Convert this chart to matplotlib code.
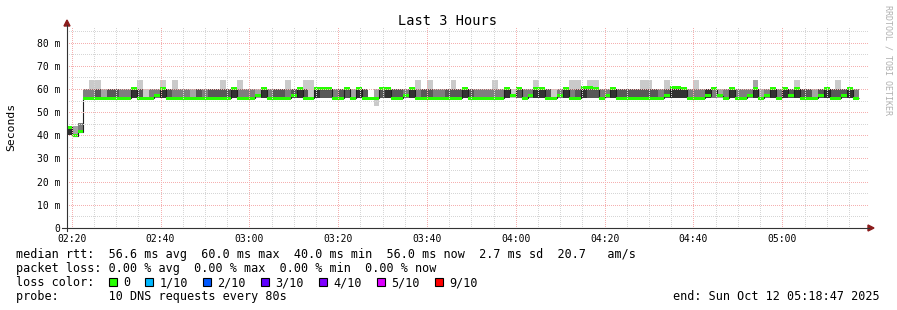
import numpy as np
import matplotlib.pyplot as plt
from matplotlib.patches import Polygon, Rectangle
from matplotlib.lines import Line2D

# Canvas in pixels, rrdtool style layout
W, H = 897, 310
MONO = 'DejaVu Sans Mono'

# time axis, minutes after 02:00
FIRST_STEP = 18 + 38 / 60     # first 80 s step starts 02:18:38
STEP = 80 / 60
T_START = 18 + 56 / 60        # left edge of graph
PX_PER_MIN = 4.441
PX_PER_MS = 2.3175

# usual ping levels in ms
LOW, MID, PEAK = 56.0, 60.0, 64.0

# per step: number of the 10 pings at LOW and at PEAK (the rest sit at MID)
n_low = [0, 0, 0, 7, 7, 6, 8, 6, 6, 7,
         7, 5, 6, 9, 7, 7, 5, 6, 7, 7,
         7, 8, 6, 7, 6, 6, 6, 6, 5, 7,
         7, 7, 8, 5, 7, 6, 6, 7, 6, 5,
         6, 9, 5, 4, 4, 7, 6, 4, 8, 5,
         6, 10, 0, 4, 5, 6, 6, 7, 5, 7,
         6, 6, 7, 7, 6, 6, 6, 5, 6, 7,
         7, 7, 7, 7, 5, 9, 4, 7, 7, 5,
         5, 6, 9, 7, 5, 7, 6, 5, 4, 4,
         7, 7, 5, 6, 6, 6, 6, 6, 6, 6,
         7, 6, 5, 5, 5, 7, 7, 7, 5, 3,
         8, 7, 5, 7, 7, 7, 5, 8, 7, 5,
         7, 5, 6, 5, 6, 6, 8, 6, 5, 6,
         6, 6, 5, 7]
n_peak = [0, 0, 0, 0, 1, 1, 0, 0, 0, 0,
          0, 0, 1, 0, 0, 0, 1, 0, 1, 0,
          0, 0, 0, 0, 0, 0, 1, 0, 0, 1,
          0, 0, 0, 0, 0, 0, 0, 1, 0, 0,
          1, 1, 0, 0, 0, 0, 0, 0, 0, 0,
          0, 0, 0, 0, 0, 0, 0, 0, 0, 1,
          0, 1, 0, 0, 0, 1, 0, 0, 0, 0,
          0, 0, 1, 0, 0, 0, 0, 0, 0, 1,
          0, 0, 0, 0, 0, 1, 1, 0, 1, 1,
          0, 0, 0, 0, 0, 0, 0, 1, 1, 0,
          0, 1, 0, 0, 0, 0, 1, 0, 0, 0,
          0, 0, 0, 0, 0, 0, 2, 0, 0, 0,
          0, 0, 0, 1, 0, 0, 0, 0, 0, 0,
          1, 0, 0, 0]
median = [43.4, 39.9, 41.5, 56, 56, 56, 56, 56, 56, 56,
          56, 60, 56, 56, 56, 57, 60, 56, 56, 56,
          56, 56, 56, 56, 56, 56, 56, 56, 60, 56,
          56, 56, 57, 60, 56, 56, 56, 56, 57, 60,
          56, 56, 60, 60, 60, 56, 56, 60, 56, 60,
          56, 56, 56, 60, 60, 56, 56, 57, 60, 56,
          56, 56, 56, 56, 56, 56, 56, 60, 56, 56,
          56, 56, 56, 56, 60, 57, 60, 56, 57, 60,
          60, 56, 56, 57, 60, 56, 56, 60.5, 60.5, 60,
          56, 57, 60, 56, 56, 56, 56, 56, 56, 56,
          56, 57, 60.5, 60.5, 60, 56, 56, 56, 57, 60,
          57, 56, 60, 56, 56, 57, 60, 56, 57, 60,
          56, 60, 57, 60, 56, 56, 56, 57, 60, 56,
          56, 57, 60, 56]
# steps whose pings are off the usual levels
special_pings = {
    0: [40.0, 40.0, 40.0, 40.0, 40.0, 43.5, 43.5, 43.5, 43.5, 43.5],
    1: [39.8, 39.8, 39.8, 39.8, 39.8, 39.8, 39.8, 39.8, 44.0, 44.0],
    2: [41.5, 41.5, 41.5, 41.5, 41.5, 41.5, 41.5, 45.4, 45.4, 45.4],
    52: [52.5, 56.0, 56.0, 56.0, 56.0, 56.0, 56.0, 56.0, 60.0, 60.0],
}

loss_labels = ['0', '1/10', '2/10', '3/10', '4/10', '5/10', '9/10']
loss_colors = ['#26ff00', '#00b8ff', '#0059ff', '#5e00ff', '#7e00ff', '#dd00ff', '#ff0000']

legend_lines = [
    'median rtt:  56.6 ms avg  60.0 ms max  40.0 ms min  56.0 ms now  2.7 ms sd  20.7   am/s',
    'packet loss: 0.00 % avg  0.00 % max  0.00 % min  0.00 % now',
    'loss color:',
    'probe:       10 DNS requests every 80s',
]
end_text = 'end: Sun Oct 12 05:18:47 2025'


def fx(x):
    return x / W


def fy(y):
    return 1 - y / H


N = len(median)
pings = []
for i in range(N):
    if i in special_pings:
        p = list(special_pings[i])
    else:
        p = [LOW] * n_low[i] + [PEAK] * n_peak[i]
        p += [MID] * (10 - len(p))
    pings.append(sorted(p))
pings = np.array(pings)
med = np.array(median, dtype=float)
edges = FIRST_STEP + STEP * np.arange(N + 1)

fig = plt.figure(figsize=(W / 100, H / 100), dpi=100)
fig.patch.set_facecolor('white')

# plot area: x 67..868, y 26..228 in pixels
ax = fig.add_axes([fx(67), fy(228), 801 / W, 202 / H])
ax.set_xlim(T_START, T_START + 801 / PX_PER_MIN)
ax.set_ylim(0, 202 / PX_PER_MS)
for s in ax.spines.values():
    s.set_visible(False)

# smoke: outer pairs of sorted pings light, inner pairs darker
for b in range(5):
    g = int(190 / 5 * (5 - (b + 1)) + 50)
    ax.stairs(pings[:, 9 - b], edges, baseline=pings[:, b], fill=True,
              color='#%02x%02x%02x' % (g, g, g), lw=0, antialiased=False, zorder=1)

# median line, then loss coloured band over it
ax.stairs(med, edges, baseline=None, color='#202020', lw=0.8, zorder=3)
ax.stairs(med + 0.65, edges, baseline=med - 0.65, fill=True, color=loss_colors[0],
          lw=0, antialiased=False, zorder=4)

# dotted grid on top, like rrdtool
dots = (0, (1, 1.5))
grid = []
for y in range(5, 90, 10):
    grid.append(ax.axhline(y, color='#d6d6d6', zorder=5))
for m in range(20, 200, 5):
    if m % 20:
        grid.append(ax.axvline(m, color='#d6d6d6', zorder=5))
for y in range(10, 90, 10):
    grid.append(ax.axhline(y, color='#f5b0b0', zorder=6))
for m in range(20, 200, 20):
    grid.append(ax.axvline(m, color='#f5b0b0', zorder=6))
for ln in grid:
    ln.set_linewidth(0.72)
    ln.set_linestyle(dots)
    ln.set_antialiased(False)

xt = list(range(20, 200, 20))
ax.set_xticks(xt)
ax.set_xticklabels(['%02d:%02d' % (2 + m // 60, m % 60) for m in xt], family=MONO, fontsize=7)
yt = list(range(0, 90, 10))
ax.set_yticks(yt)
ax.set_yticklabels(['0' if v == 0 else '%d m' % v for v in yt], family=MONO, fontsize=7)
ax.tick_params(axis='x', length=0, pad=4.2)
ax.tick_params(axis='y', length=0, pad=5)

# axes with arrows
axis_col = '#333333'
arrow_col = '#8b1c1c'
fig.add_artist(Line2D([fx(67), fx(67)], [fy(231), fy(25)], color=axis_col, lw=0.8))
fig.add_artist(Line2D([fx(62), fx(869)], [fy(228), fy(228)], color=axis_col, lw=0.8))
fig.add_artist(Polygon([[fx(64), fy(26)], [fx(70), fy(26)], [fx(67), fy(20)]],
                       closed=True, color=arrow_col, transform=fig.transFigure))
fig.add_artist(Polygon([[fx(868), fy(225)], [fx(868), fy(231)], [fx(874), fy(228)]],
                       closed=True, color=arrow_col, transform=fig.transFigure))

# titles
fig.text(fx(447.5), fy(25), 'Last 3 Hours', ha='center', va='baseline',
         family=MONO, fontsize=9.8)
fig.text(fx(11), fy(127), 'Seconds', rotation=90, ha='center', va='center',
         family=MONO, fontsize=8.2)
fig.text(fx(888), fy(5), 'RRDTOOL / TOBI OETIKER', rotation=270, ha='center', va='top',
         family=MONO, fontsize=6, color='#b0b0b0')

# legend block
for k, line in enumerate(legend_lines):
    fig.text(fx(16), fy(258 + 14 * k), line, ha='left', va='baseline',
             family=MONO, fontsize=8.5)
fig.text(fx(880), fy(300), end_text, ha='right', va='baseline', family=MONO, fontsize=8.5)

bx = 108.5
for lab, col in zip(loss_labels, loss_colors):
    fig.add_artist(Rectangle((fx(bx), fy(286)), 8 / W, 8 / H, facecolor=col,
                             edgecolor='black', lw=0.8, transform=fig.transFigure))
    fig.text(fx(bx + 14.5), fy(286), lab, ha='left', va='baseline', family=MONO, fontsize=8.5)
    bx += 14.5 + 7.1 * len(lab) + 15

fig.savefig('out.png', dpi=100)
